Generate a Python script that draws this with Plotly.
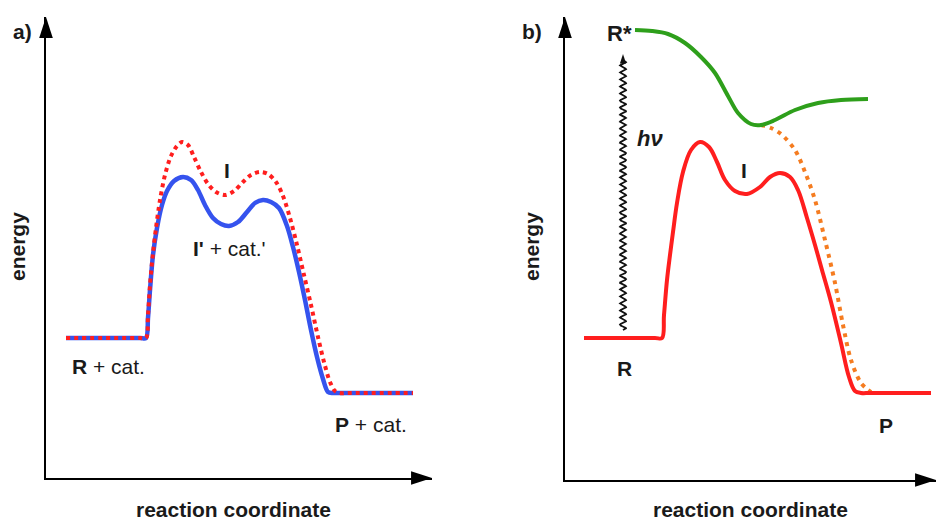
import numpy as np
import plotly.graph_objects as go

# ---------------- data (arbitrary units: reaction coordinate / energy) ----------------
# panel a) catalysed vs. uncatalysed profile
A_RC_CAT = [20, 94, 100, 102, 104, 107, 111, 116, 121, 128, 137, 145, 152, 159, 167, 175, 183,
            192, 201, 209, 217, 225, 233, 241, 247, 253, 259, 265, 271, 277, 282, 287, 295, 367]
A_E_CAT = [140, 140, 140, 160, 188, 223, 250, 273, 287, 297, 301, 298, 288, 273, 260, 254, 252,
           256, 266, 275, 278, 276, 270, 252, 231, 206, 178, 148, 121, 99, 86, 85, 85, 85]

A_RC_UNCAT = [20, 94, 100, 102, 104, 107, 110, 114, 119, 125, 131, 136, 142, 148, 155, 162, 170,
              179, 188, 197, 205, 214, 222, 230, 237, 244, 251, 258, 265, 272, 278, 284, 289,
              294, 302, 367]
A_E_UNCAT = [140, 140, 140, 163, 193, 225, 250, 278, 303, 322, 332, 336, 333, 321, 306, 294, 286,
             283, 287, 296, 303, 306, 304, 296, 282, 260, 233, 203, 173, 141, 116, 96, 87,
             85, 85, 85]

# panel b) photochemical profile
B_RC_GROUND = [19, 90, 97, 99, 102, 105, 108, 112, 118, 126, 135, 144, 152, 160, 170, 182,
               195, 205, 215, 225, 233, 242, 250, 257, 266, 276, 284, 290, 296, 305, 366]
B_E_GROUND = [142, 142, 142, 165, 200, 225, 248, 277, 308, 330, 338, 333, 318, 300, 289, 286,
              293, 303, 307, 303, 290, 262, 235, 210, 178, 137, 103, 89, 87, 87, 87]

B_RC_EXCITED = [70, 87, 103, 120, 136, 150, 163, 173, 186, 196, 210, 230, 253, 276, 303]
B_E_EXCITED = [450, 449, 446, 437, 423, 407, 384, 367, 356, 355, 360, 370, 377, 380, 381]

B_RC_RELAX = [196, 206, 216, 230, 240, 250, 260, 270, 278, 286, 296, 306]
B_E_RELAX = [355, 352, 346, 330, 308, 280, 240, 197, 155, 120, 97, 88]

B_HV_RC = 58          # position of the photon-excitation arrow
B_HV_E = [150, 426]   # from ground state up to the excited state

# axis extents (arbitrary units)
A_X_MAX, A_Y_MAX = 386, 461
B_X_MAX, B_Y_MAX = 371, 463

W, H = 936, 522

BLUE = "#3553EE"
RED = "#FF1E1E"
GREEN = "#2E9F1B"
ORANGE = "#F57C20"
FONT = "Liberation Sans, Arial, sans-serif"

fig = go.Figure()

# ---- panel a
fig.add_trace(go.Scatter(x=A_RC_CAT, y=A_E_CAT, mode="lines", xaxis="x", yaxis="y",
                         line=dict(color=BLUE, width=4.5, shape="spline", smoothing=0.9),
                         hoverinfo="skip"))
fig.add_trace(go.Scatter(x=A_RC_UNCAT, y=A_E_UNCAT, mode="lines", xaxis="x", yaxis="y",
                         line=dict(color=RED, width=4, dash="4px,4px", shape="spline", smoothing=0.9),
                         hoverinfo="skip"))

# ---- panel b
fig.add_trace(go.Scatter(x=B_RC_RELAX, y=B_E_RELAX, mode="lines", xaxis="x2", yaxis="y2",
                         line=dict(color=ORANGE, width=4, dash="4px,5px", shape="spline", smoothing=0.9),
                         hoverinfo="skip"))
fig.add_trace(go.Scatter(x=B_RC_GROUND, y=B_E_GROUND, mode="lines", xaxis="x2", yaxis="y2",
                         line=dict(color=RED, width=4, shape="spline", smoothing=1.0),
                         hoverinfo="skip"))
fig.add_trace(go.Scatter(x=B_RC_EXCITED, y=B_E_EXCITED, mode="lines", xaxis="x2", yaxis="y2",
                         line=dict(color=GREEN, width=4, shape="spline", smoothing=0.9),
                         hoverinfo="skip"))

# wavy photon arrow (decorative wiggle)
e_w = np.linspace(B_HV_E[0], B_HV_E[1] - 6, 500)
x_w = B_HV_RC + 3.0 * np.sin((e_w - B_HV_E[0]) * 2 * np.pi / 7.0)
fig.add_trace(go.Scatter(x=x_w, y=e_w, mode="lines", xaxis="x2", yaxis="y2",
                         line=dict(color="#111111", width=1.8), hoverinfo="skip"))
fig.add_trace(go.Scatter(x=[B_HV_RC], y=[B_HV_E[1]], mode="markers", xaxis="x2", yaxis="y2",
                         marker=dict(symbol="arrow", size=10, color="#111111", angle=0),
                         cliponaxis=False, hoverinfo="skip"))

# axis arrowheads
fig.add_trace(go.Scatter(x=[0], y=[A_Y_MAX], mode="markers", xaxis="x", yaxis="y",
                         marker=dict(symbol="arrow", size=22, color="black", angle=0),
                         cliponaxis=False, hoverinfo="skip"))
fig.add_trace(go.Scatter(x=[A_X_MAX], y=[0], mode="markers", xaxis="x", yaxis="y",
                         marker=dict(symbol="arrow", size=22, color="black", angle=90),
                         cliponaxis=False, hoverinfo="skip"))
fig.add_trace(go.Scatter(x=[0], y=[B_Y_MAX], mode="markers", xaxis="x2", yaxis="y2",
                         marker=dict(symbol="arrow", size=22, color="black", angle=0),
                         cliponaxis=False, hoverinfo="skip"))
fig.add_trace(go.Scatter(x=[B_X_MAX], y=[0], mode="markers", xaxis="x2", yaxis="y2",
                         marker=dict(symbol="arrow", size=22, color="black", angle=90),
                         cliponaxis=False, hoverinfo="skip"))

ax_common = dict(showgrid=False, zeroline=False, showticklabels=False, ticks="",
                 showline=True, linecolor="black", linewidth=2, fixedrange=True)

fig.update_layout(
    width=W, height=H,
    margin=dict(l=0, r=0, t=0, b=0),
    paper_bgcolor="white", plot_bgcolor="rgba(0,0,0,0)",
    showlegend=False,
    hovermode=False,
    font=dict(family=FONT, color="#1a1a1a"),
    xaxis=dict(domain=[46 / W, 432 / W], range=[0, A_X_MAX], anchor="y", **ax_common),
    yaxis=dict(domain=[44 / H, 505 / H], range=[0, A_Y_MAX], anchor="x", **ax_common),
    xaxis2=dict(domain=[565 / W, 1.0], range=[0, B_X_MAX], anchor="y2", **ax_common),
    yaxis2=dict(domain=[42 / H, 505 / H], range=[0, B_Y_MAX], anchor="x2", **ax_common),
)

def px_ann(text, x, y, size=21, angle=0):
    fig.add_annotation(text=text, x=x / W, y=1 - y / H, xref="paper", yref="paper",
                       showarrow=False, textangle=angle, xanchor="center", yanchor="middle",
                       font=dict(family=FONT, size=size, color="#1a1a1a"))

# panel letters and axis titles
px_ann("<b>a)</b>", 22, 31)
px_ann("<b>b)</b>", 532, 31)
px_ann("<b>energy</b>", 17, 247, size=21, angle=-90)
px_ann("<b>energy</b>", 531, 247, size=21, angle=-90)
px_ann("<b>reaction coordinate</b>", 233, 509, size=21)
px_ann("<b>reaction coordinate</b>", 750, 509, size=21)

# state labels (data coordinates)
def d_ann(text, x, y, xa="x", ya="y", size=21):
    fig.add_annotation(text=text, x=x, y=y, xref=xa, yref=ya, showarrow=False,
                       xanchor="center", yanchor="middle",
                       font=dict(family=FONT, size=size, color="#1a1a1a"))

d_ann("<b>R</b> + cat.", 62, 112)
d_ann("<b>P</b> + cat.", 325, 54)
d_ann("<b>I</b>", 181, 308)
d_ann("<b>I'</b> + cat.'", 183, 230)

d_ann("<b>R*</b>", 54, 447, "x2", "y2", size=22)
d_ann("<b><i>hν</i></b>", 85, 342, "x2", "y2", size=22)
d_ann("<b>I</b>", 179, 310, "x2", "y2")
d_ann("<b>R</b>", 59, 112, "x2", "y2")
d_ann("<b>P</b>", 321, 55, "x2", "y2")

fig.write_html("out.html", config={"displayModeBar": False, "staticPlot": True},
               post_script="document.body.style.margin='0';document.body.style.overflow='hidden';")
